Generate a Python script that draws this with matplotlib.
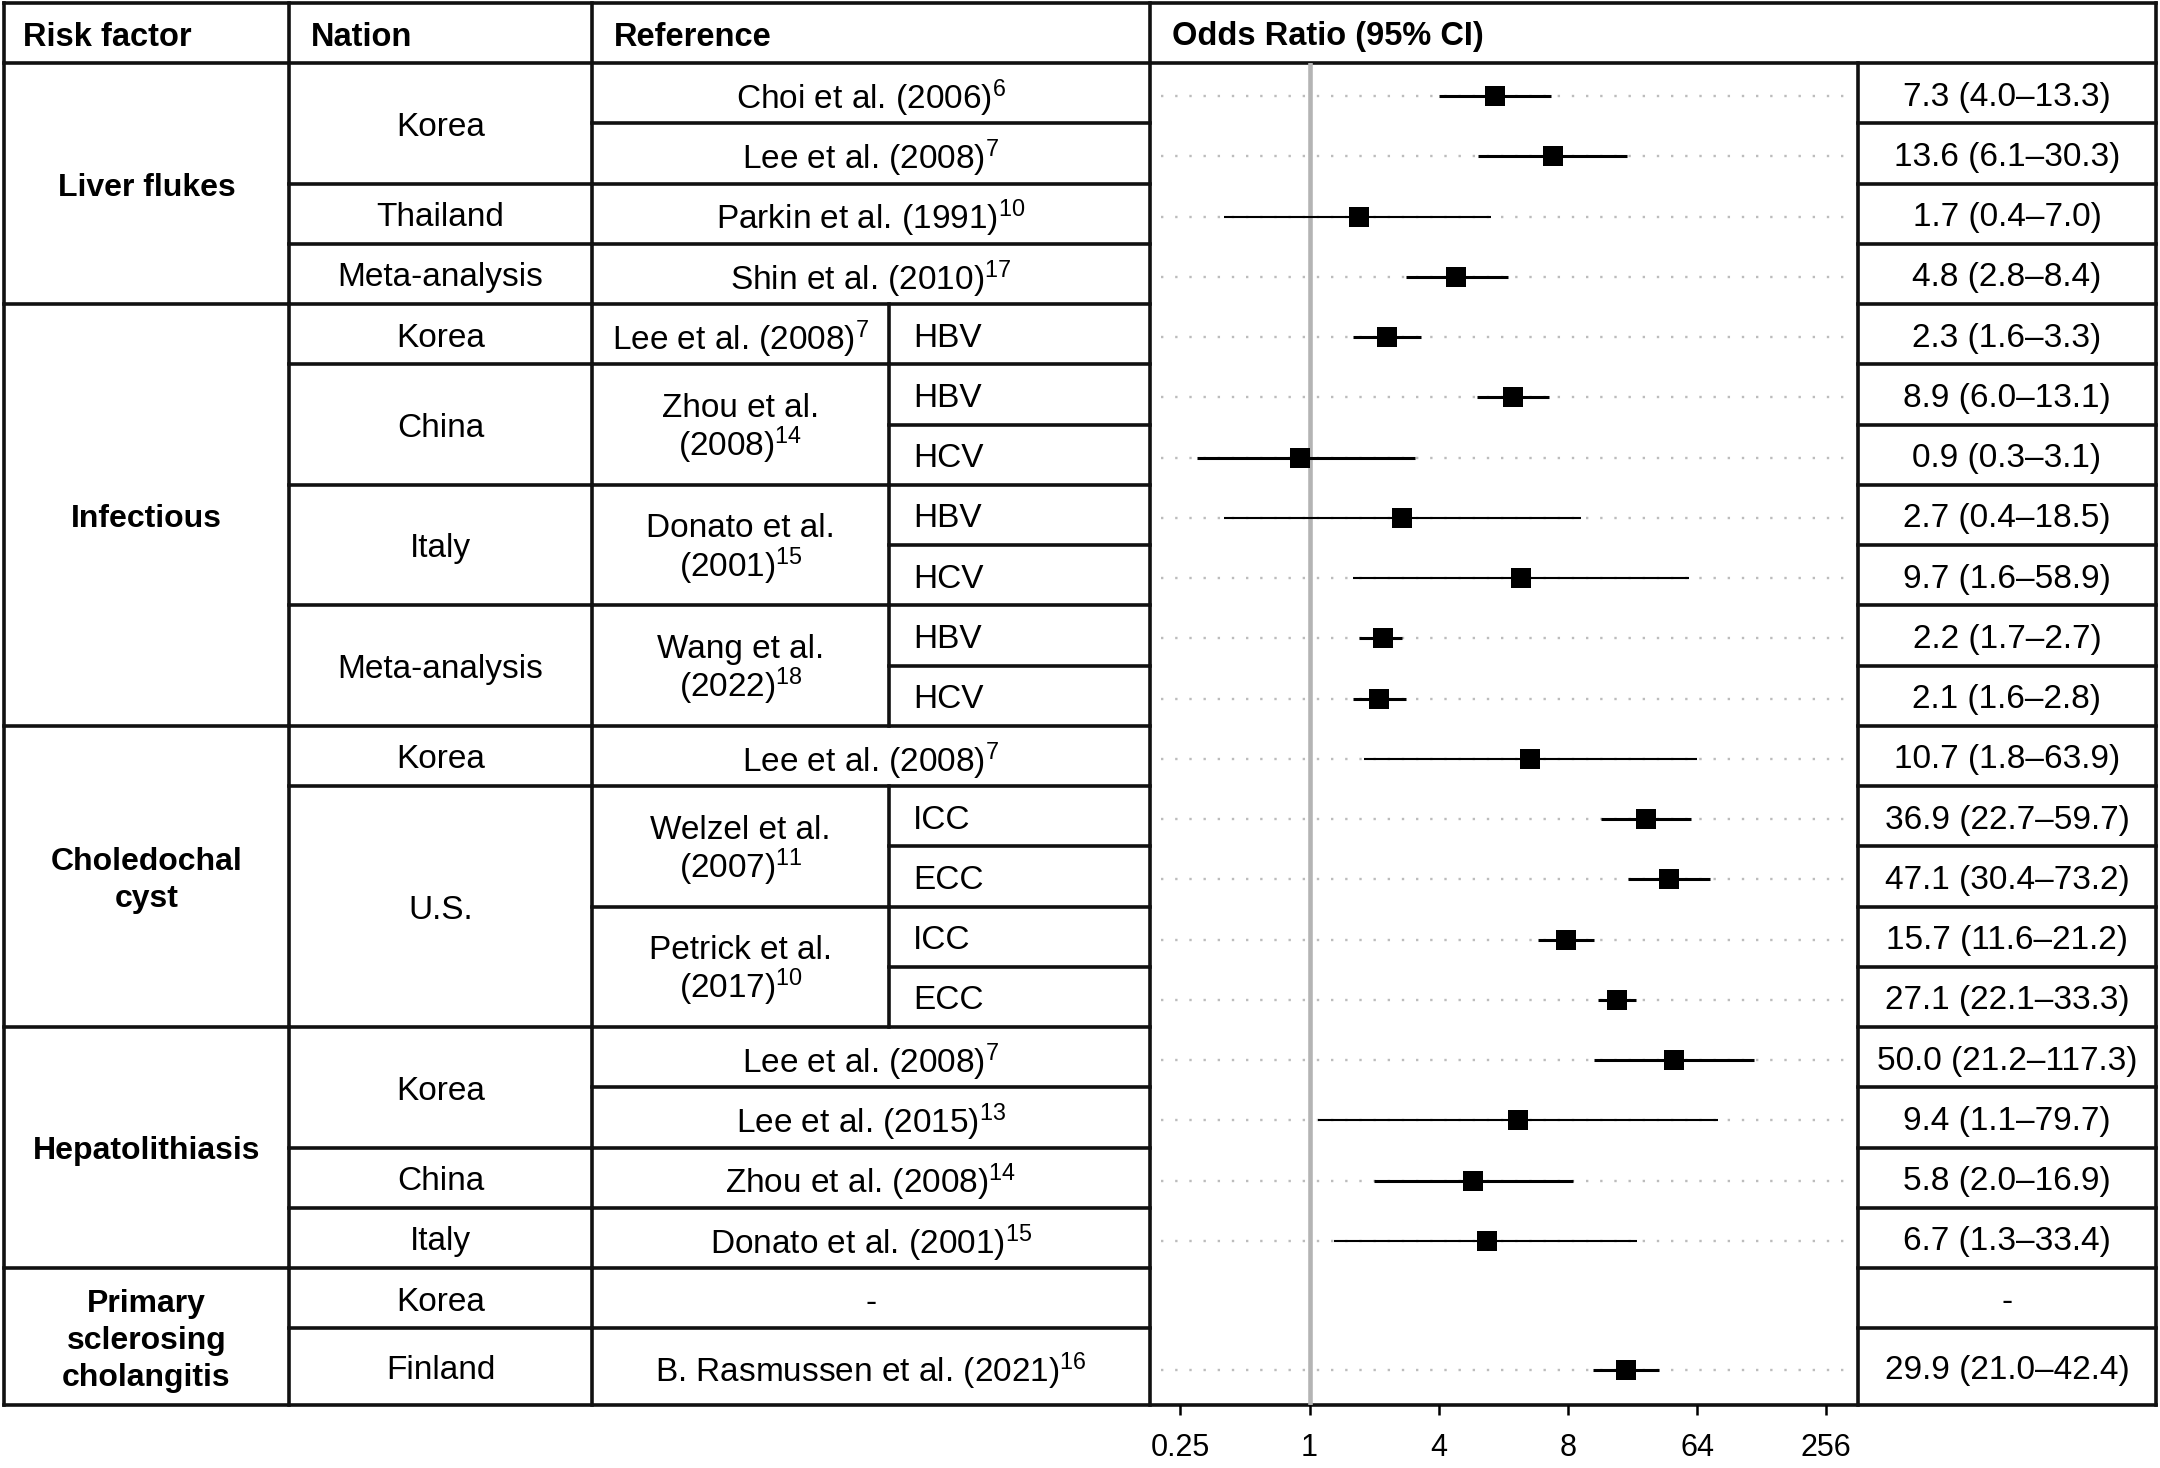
import numpy as np
import matplotlib.pyplot as plt
from matplotlib.ticker import NullLocator

plt.rcParams['font.family'] = ['Liberation Sans', 'DejaVu Sans']
plt.rcParams['mathtext.default'] = 'regular'

# ---- data ----
risk_factors = ['Liver flukes', 'Infectious', 'Choledochal\ncyst', 'Hepatolithiasis',
                'Primary\nsclerosing\ncholangitis']
risk_rows = [4, 7, 5, 4, 2]

nations = ['Korea', 'Thailand', 'Meta-analysis',
           'Korea', 'China', 'Italy', 'Meta-analysis',
           'Korea', 'U.S.',
           'Korea', 'China', 'Italy',
           'Korea', 'Finland']
nation_rows = [2, 1, 1, 1, 2, 2, 2, 1, 4, 2, 1, 1, 1, 1]

references = ['Choi et al. (2006)$^{6}$', 'Lee et al. (2008)$^{7}$',
              'Parkin et al. (1991)$^{10}$', 'Shin et al. (2010)$^{17}$',
              'Lee et al. (2008)$^{7}$', 'Zhou et al.\n(2008)$^{14}$',
              'Donato et al.\n(2001)$^{15}$', 'Wang et al.\n(2022)$^{18}$',
              'Lee et al. (2008)$^{7}$', 'Welzel et al.\n(2007)$^{11}$',
              'Petrick et al.\n(2017)$^{10}$',
              'Lee et al. (2008)$^{7}$', 'Lee et al. (2015)$^{13}$',
              'Zhou et al. (2008)$^{14}$', 'Donato et al. (2001)$^{15}$',
              '-', 'B. Rasmussen et al. (2021)$^{16}$']
reference_rows = [1, 1, 1, 1, 1, 2, 2, 2, 1, 2, 2, 1, 1, 1, 1, 1, 1]

subtypes = ['', '', '', '', 'HBV', 'HBV', 'HCV', 'HBV', 'HCV', 'HBV', 'HCV',
            '', 'ICC', 'ECC', 'ICC', 'ECC', '', '', '', '', '', '']

odds_ratio = [7.3, 13.6, 1.7, 4.8, 2.3, 8.9, 0.9, 2.7, 9.7, 2.2, 2.1,
              10.7, 36.9, 47.1, 15.7, 27.1, 50.0, 9.4, 5.8, 6.7, np.nan, 29.9]
ci_lower = [4.0, 6.1, 0.4, 2.8, 1.6, 6.0, 0.3, 0.4, 1.6, 1.7, 1.6,
            1.8, 22.7, 30.4, 11.6, 22.1, 21.2, 1.1, 2.0, 1.3, np.nan, 21.0]
ci_upper = [13.3, 30.3, 7.0, 8.4, 3.3, 13.1, 3.1, 18.5, 58.9, 2.7, 2.8,
            63.9, 59.7, 73.2, 21.2, 33.3, 117.3, 79.7, 16.9, 33.4, np.nan, 42.4]

tick_values = [0.25, 1, 4, 16, 64, 256]
tick_labels = ['0.25', '1', '4', '8', '64', '256']

headers = ['Risk factor', 'Nation', 'Reference', 'Odds Ratio (95% CI)']

# ---- layout (pixels) ----
W, H = 2160, 1468
col_x = [4, 289, 592, 889, 1150, 1858, 2156]
top, head_bot = 3, 63
n = len(odds_ratio)
row_h = np.full(n, 60.25)
row_h[-1] = 77
row_edges = head_bot + np.concatenate([[0], np.cumsum(row_h)])
row_mid = (row_edges[:-1] + row_edges[1:]) / 2
bottom = row_edges[-1]

LW = 2.6
LC = '#111111'
FS = 24
DY = 4  # text sits a little below the cell centre in the original


def spans(counts):
    start = np.concatenate([[0], np.cumsum(counts)[:-1]]).astype(int)
    return list(zip(start, start + np.array(counts)))


fig = plt.figure(figsize=(W / 100, H / 100), dpi=100)
tab = fig.add_axes([0, 0, 1, 1])
tab.set_xlim(0, W)
tab.set_ylim(H, 0)
tab.axis('off')


def hline(y, x0, x1):
    tab.plot([x0, x1], [y, y], color=LC, lw=LW, solid_capstyle='projecting')


def vline(x, y0, y1):
    tab.plot([x, x], [y0, y1], color=LC, lw=LW, solid_capstyle='projecting')


# outer frame and header
hline(top, col_x[0], col_x[-1])
hline(head_bot, col_x[0], col_x[-1])
hline(bottom, col_x[0], col_x[-1])
for x in [col_x[0], col_x[1], col_x[2], col_x[4], col_x[6]]:
    vline(x, top, bottom)
vline(col_x[5], head_bot, bottom)

header_x = [23, 311, 614, 1172]
for hx, txt in zip(header_x, headers):
    tab.text(hx, (top + head_bot) / 2 + DY, txt, ha='left', va='center',
             fontsize=23.5, fontweight='bold')

# risk factor column
for (a, b), txt in zip(spans(risk_rows), risk_factors):
    if b < n:
        hline(row_edges[b], col_x[0], col_x[1])
    tab.text((col_x[0] + col_x[1]) / 2, (row_edges[a] + row_edges[b]) / 2 + DY, txt,
             ha='center', va='center', fontsize=23, fontweight='bold',
             linespacing=1.3)

# nation column
for (a, b), txt in zip(spans(nation_rows), nations):
    if b < n:
        hline(row_edges[b], col_x[1], col_x[2])
    tab.text((col_x[1] + col_x[2]) / 2, (row_edges[a] + row_edges[b]) / 2 + DY, txt,
             ha='center', va='center', fontsize=FS)

# reference column (with optional subtype cells)
for (a, b), txt in zip(spans(reference_rows), references):
    if b < n:
        hline(row_edges[b], col_x[2], col_x[4])
    has_sub = subtypes[a] != ''
    xc = (col_x[2] + col_x[3]) / 2 if has_sub else (col_x[2] + col_x[4]) / 2
    tab.text(xc, (row_edges[a] + row_edges[b]) / 2 + DY + 1, txt,
             ha='center', va='center', fontsize=FS, linespacing=1.02)
    if has_sub:
        vline(col_x[3], row_edges[a], row_edges[b])
        for r in range(a, b):
            if r < b - 1:
                hline(row_edges[r + 1], col_x[3], col_x[4])
            tab.text(col_x[3] + 24, row_mid[r] + DY, subtypes[r],
                     ha='left', va='center', fontsize=FS)

# result column
for i in range(n):
    if i < n - 1:
        hline(row_edges[i + 1], col_x[5], col_x[6])
    if np.isnan(odds_ratio[i]):
        label = '-'
    else:
        label = f'{odds_ratio[i]:.1f} ({ci_lower[i]:.1f}\u2013{ci_upper[i]:.1f})'
    tab.text((col_x[5] + col_x[6]) / 2, row_mid[i] + DY, label,
             ha='center', va='center', fontsize=FS)

# ---- forest plot ----
ax = fig.add_axes([col_x[4] / W, 1 - bottom / H,
                   (col_x[5] - col_x[4]) / W, (bottom - head_bot) / H])
ax.set_xscale('log', base=2)
ax.set_xlim(2 ** -2.47, 2 ** 8.49)
ax.set_ylim(bottom, head_bot)
ax.patch.set_visible(False)
for s in ax.spines.values():
    s.set_visible(False)

ax.axvline(1, color='#b4b4b4', lw=3.3, zorder=1)

for i in range(n):
    if np.isnan(odds_ratio[i]):
        continue
    y = row_mid[i] + 3
    ax.plot([0.0155, 0.99], [y, y], transform=ax.get_yaxis_transform(),
            color='#bcbcbc', lw=1.7, linestyle=(0, (1, 5.0)), zorder=0)
    width = np.log2(ci_upper[i] / ci_lower[i])
    ax.plot([ci_lower[i], ci_upper[i]], [y, y], color='black',
            lw=1.5 if width > 4 else 2.2, solid_capstyle='butt', zorder=2)
    ax.plot(odds_ratio[i], y, marker='s', ms=15, mew=0, color='black', zorder=3)

ax.set_yticks([])
ax.set_xticks(tick_values, tick_labels)
ax.xaxis.set_minor_locator(NullLocator())
ax.tick_params(axis='x', length=7, width=1.8, color='black', labelsize=22, pad=13)

fig.savefig('out.png', dpi=100)
